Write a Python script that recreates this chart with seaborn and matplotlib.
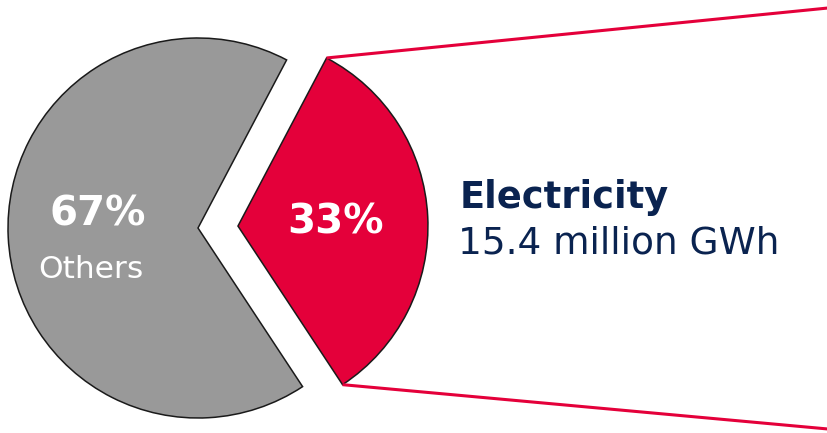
import numpy as np
import matplotlib
matplotlib.use("Agg")
import matplotlib.pyplot as plt
import seaborn as sns

labels = ["Electricity", "Others"]
shares = [33, 67]
pct_labels = ["33%", "67%"]
colors = ["#E4003A", "#999999"]
title_main = "Electricity"
title_sub = "15.4 million GWh"

sns.set_theme(style="white")
plt.rcParams['font.family'] = ['DejaVu Sans']

W, H = 828, 433
fig = plt.figure(figsize=(W / 100, H / 100), dpi=100)
ax = fig.add_axes([0, 0, 1, 1])

R = 190
cx, cy = 198, H - 228
wedges, _ = ax.pie(shares, colors=colors, radius=R, center=(cx, cy),
                   startangle=-56.6, counterclock=True,
                   explode=[40, 0], frame=True,
                   wedgeprops=dict(edgecolor="#1a1a1a", linewidth=1.1))
ax.set_xlim(0, W)
ax.set_ylim(0, H)
ax.set_aspect("equal")
ax.axis("off")

red = wedges[0]
rx, ry = red.center
t1, t2 = np.deg2rad(red.theta1), np.deg2rad(red.theta2)
top = (rx + R * np.cos(t2), ry + R * np.sin(t2))
bot = (rx + R * np.cos(t1), ry + R * np.sin(t1))
ax.plot([top[0], W], [top[1], H - 8], color="#E4003A", lw=2.2, solid_capstyle="butt")
ax.plot([bot[0], W], [bot[1], H - 429], color="#E4003A", lw=2.2, solid_capstyle="butt")

ax.text(336, H - 223, pct_labels[0], color="white", fontsize=29, fontweight="bold",
        ha="center", va="center")
ax.text(98, H - 214, pct_labels[1], color="white", fontsize=29, fontweight="bold",
        ha="center", va="center")
ax.text(91, H - 270, labels[1], color="white", fontsize=22.5, ha="center", va="center")

ax.text(460, H - 208, title_main, color="#0A2350", fontsize=26.5, fontweight="bold",
        ha="left", va="baseline")
ax.text(458, H - 253, title_sub, color="#0A2350", fontsize=27,
        ha="left", va="baseline")

fig.savefig("out.png", dpi=100)
